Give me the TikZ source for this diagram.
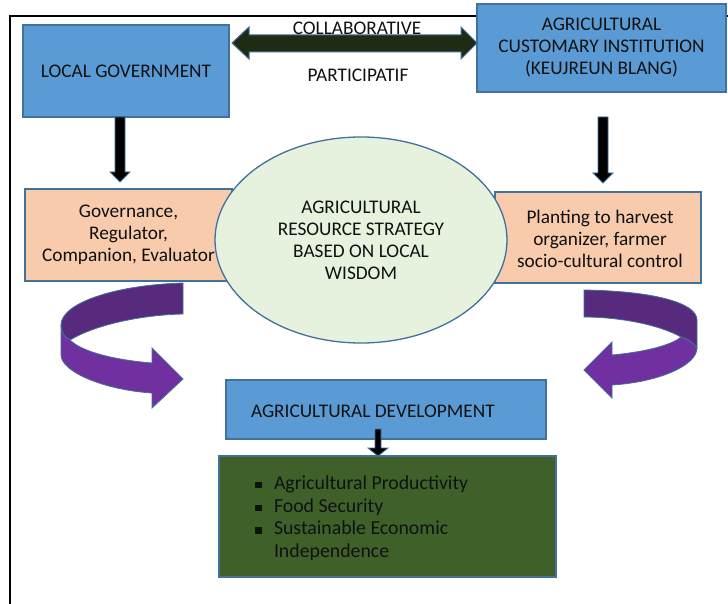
\documentclass[tikz,border=0pt]{standalone}
\usepackage{fontspec}
\setmainfont{Carlito}
\usetikzlibrary{calc,shapes.geometric}
\definecolor{boxblue}{HTML}{5B9BD5}
\definecolor{edgeblue}{HTML}{41719C}
\definecolor{peach}{HTML}{F8CBAD}
\definecolor{ellfill}{HTML}{E6F1DE}
\definecolor{darkgreen}{HTML}{3F6129}
\definecolor{arrowdark}{HTML}{1E2C14}
\definecolor{purpleA}{HTML}{7030A0}
\definecolor{purpleB}{HTML}{582A7E}
\definecolor{txt}{HTML}{111111}
\begin{document}
\begin{tikzpicture}[x=1pt,y=-1pt,
  every node/.style={font=\fontsize{19.3}{22}\selectfont, text=txt, inner sep=0pt, outer sep=0pt},
  bluebox/.style={draw=edgeblue, line width=1.3pt, fill=boxblue},
  peachbox/.style={draw=edgeblue, line width=1.3pt, fill=peach, align=center},
  blockarrow/.style={draw=edgeblue, line width=1pt, fill=arrowdark},
  downblk/.style={draw=edgeblue, line width=0.8pt, fill=black},
  curvedark/.style={draw=edgeblue, line width=0.8pt, fill=purpleB},
  curvelight/.style={draw=edgeblue, line width=0.8pt, fill=purpleA}]
\useasboundingbox (0,0) rectangle (728,604);
\fill[white] (0,0) rectangle (728,604);
% frame
\draw[line width=1.6pt] (10,604) -- (10,16) -- (728,16);
% top boxes
\node[bluebox, minimum width=206pt, minimum height=92pt] (lg) at (126,71) {LOCAL GOVERNMENT};
\node[bluebox, minimum width=249pt, minimum height=88pt, align=center] (aci) at (601.5,48)
  {AGRICULTURAL\\CUSTOMARY INSTITUTION\\(KEUJREUN BLANG)};
% double arrow
\draw[blockarrow] (232,43) -- (249,27) -- (249,35) -- (461,35) -- (461,27) -- (477,43)
  -- (461,59) -- (461,52) -- (249,52) -- (249,59) -- cycle;
\node (collab) at (357,28) {COLLABORATIVE};
\node (partic) at (358,75) {PARTICIPATIF};
% down arrows
\draw[downblk] (115,117) -- (115,172) -- (110,172) -- (120,182) -- (130,172) -- (125,172) -- (125,117) -- cycle;
\draw[downblk] (598,117) -- (598,173) -- (593,173) -- (603,183) -- (613,173) -- (608,173) -- (608,117) -- cycle;
% role boxes
\node[peachbox, minimum width=207pt, minimum height=92pt] (pk1) at (128.5,235)
  {Governance,\\Regulator,\\Companion, Evaluator};
\node[peachbox, minimum width=206pt, minimum height=91pt] (pk2) at (598,237.5) {};
\node[align=center] (pk2t) at (600,238.5) {Planting to harvest\\organizer, farmer\\socio-cultural control};
% central ellipse
\node[ellipse, draw=edgeblue, line width=1.3pt, fill=ellfill, minimum width=292pt, minimum height=206pt, align=center] (ell) at (361,240)
  {AGRICULTURAL\\RESOURCE STRATEGY\\BASED ON LOCAL\\WISDOM};
% left curved arrow
\draw[curvedark] (183,283) .. controls (115,285) and (61,303) .. (61,325)
  .. controls (61,332) and (64,337) .. (70,340)
  .. controls (95,325) and (140,315) .. (183,314) -- cycle;
\draw[curvelight] (61,325) -- (61,355) .. controls (61,372) and (105,390) .. (152,393)
  -- (152,408) -- (183,379) -- (152,348) -- (152,363)
  .. controls (115,360) and (82,352) .. (70,340)
  .. controls (64,337) and (61,332) .. (61,325) -- cycle;
% right curved arrow
\draw[curvedark] (584,290) .. controls (650,291) and (697,302) .. (697,320) -- (697,348)
  .. controls (693,343) and (688,339) .. (681,337)
  .. controls (660,325) and (620,317) .. (584,317) -- cycle;
\draw[curvelight] (681,337) .. controls (688,339) and (693,343) .. (697,348)
  .. controls (697,365) and (660,382) .. (612,385) -- (612,398) -- (584,370) -- (612,342) -- (612,355)
  .. controls (645,352) and (672,345) .. (681,337) -- cycle;
% development box
\node[bluebox, minimum width=320pt, minimum height=59pt] (ad) at (386,409.5) {};
\node[anchor=west] (adt) at (251,411) {AGRICULTURAL DEVELOPMENT};
\draw[downblk] (375,429) -- (375,448) -- (368,448) -- (378,456) -- (388,448) -- (381,448) -- (381,429) -- cycle;
% outcomes box
\node[draw=edgeblue, line width=1.3pt, fill=darkgreen, minimum width=337pt, minimum height=121pt] (gb) at (387.5,516.5) {};
\node[anchor=north west, align=left, font=\fontsize{19.8}{22.7}\selectfont] (gbt) at (255,473.5)
  {\begin{tabular}{@{}p{19pt}@{}l@{}}
   \raisebox{1pt}{\rule{6.5pt}{6.5pt}} & Agricultural Productivity\\
   \raisebox{1pt}{\rule{6.5pt}{6.5pt}} & Food Security\\
   \raisebox{1pt}{\rule{6.5pt}{6.5pt}} & Sustainable Economic\\
    & Independence
   \end{tabular}};
\end{tikzpicture}
\end{document}
